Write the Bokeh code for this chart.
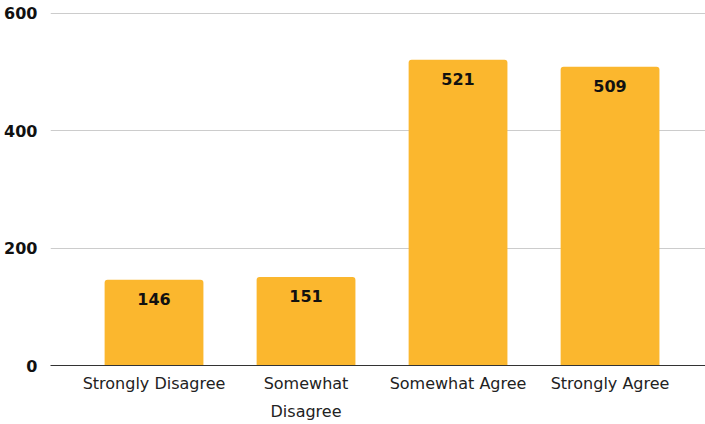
from bokeh.plotting import figure
from bokeh.models import Range1d, FixedTicker, ColumnDataSource, LabelSet
from bokeh.core.properties import value
from bokeh.embed import file_html
from bokeh.resources import INLINE

categories = ["Strongly Disagree", "Somewhat\nDisagree", "Somewhat Agree", "Strongly Agree"]
values = [146, 151, 521, 509]
y_ticks = [0, 200, 400, 600]

xs = list(range(len(categories)))
src = ColumnDataSource(dict(x=xs, top=values, label=[str(v) for v in values]))

p = figure(width=705, height=424, output_backend="svg", toolbar_location=None,
           x_range=Range1d(-0.681, 3.628), y_range=Range1d(0, 605),
           min_border_left=50, min_border_right=0, min_border_top=10, min_border_bottom=56)
p.outline_line_color = None
p.background_fill_color = "white"

p.vbar(x="x", top="top", width=0.65, source=src, fill_color="#FBB72E",
       line_color=None, border_radius=(3, 3, 0, 0))

labels = LabelSet(x="x", y="top", text="label", source=src, text_align="center",
                  text_baseline="top", y_offset=-13, text_font=value("DejaVu Sans"),
                  text_font_style="bold", text_font_size="16px", text_color="#111111")
p.add_layout(labels)

p.xaxis.ticker = FixedTicker(ticks=xs)
p.xaxis.major_label_overrides = {i: c for i, c in enumerate(categories)}
p.xaxis.major_tick_line_color = None
p.xaxis.minor_tick_line_color = None
p.xaxis.axis_line_color = "#333333"
p.xaxis.major_label_text_font = "DejaVu Sans"
p.xaxis.major_label_text_font_size = "16px"
p.xaxis.major_label_text_color = "#222222"
p.xaxis.major_label_text_line_height = 1.5
p.xaxis.major_label_standoff = 2

p.yaxis.ticker = FixedTicker(ticks=y_ticks)
p.yaxis.axis_line_color = None
p.yaxis.major_tick_line_color = None
p.yaxis.minor_tick_line_color = None
p.yaxis.major_label_text_font = "DejaVu Sans"
p.yaxis.major_label_text_font_style = "bold"
p.yaxis.major_label_text_font_size = "16px"
p.yaxis.major_label_text_color = "#111111"
p.yaxis.major_label_standoff = 7

p.xgrid.grid_line_color = None
p.ygrid.ticker = FixedTicker(ticks=[200, 400, 600])
p.ygrid.grid_line_color = "#cccccc"
p.ygrid.grid_line_width = 1

open("out.html", "w").write(file_html(p, INLINE))
